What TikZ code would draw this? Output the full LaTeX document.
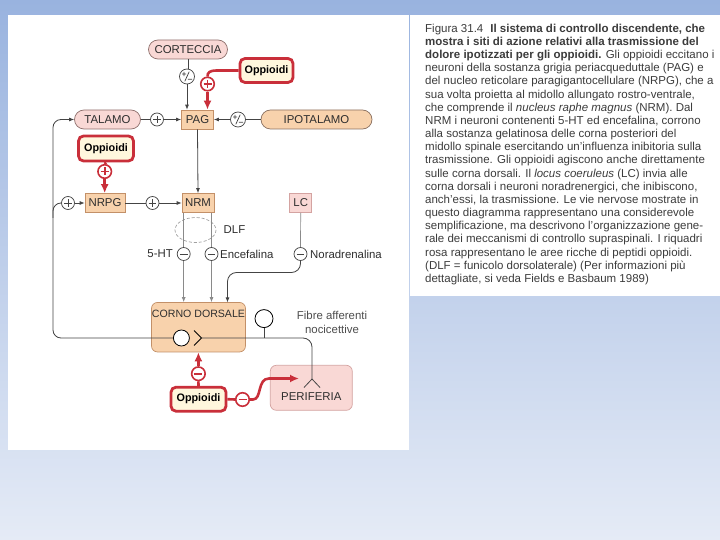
\documentclass[tikz,border=0pt]{standalone}
\usepackage{fontspec}
\setmainfont{Liberation Sans}
\usetikzlibrary{arrows.meta,calc}
\definecolor{pinkf}{HTML}{F9D8D5}
\definecolor{pinkd}{HTML}{8E6F6C}
\definecolor{pinkl}{HTML}{D4A3A1}
\definecolor{orf}{HTML}{F8D2AC}
\definecolor{ord}{HTML}{C39068}
\definecolor{ipod}{HTML}{8A7060}
\definecolor{redc}{HTML}{C92F3A}
\definecolor{cream}{HTML}{FFF7DD}
\definecolor{txt}{HTML}{2E2E2E}
\definecolor{capc}{HTML}{3C3C3C}
\definecolor{lnc}{HTML}{444444}
\definecolor{lgc}{HTML}{8A8A8A}
\definecolor{bgtop}{HTML}{99B3DF}
\definecolor{bgbot}{HTML}{E5EBF6}
\begin{document}
\begin{tikzpicture}[x=1pt,y=-1pt,
 font=\fontsize{11.4}{13}\selectfont,
 pill/.style={draw=pinkd, fill=pinkf, rounded corners=9.5pt, minimum height=19pt, inner sep=0pt, line width=0.7pt, text=txt},
 obox/.style={draw=ord, fill=orf, minimum height=19pt, inner sep=0pt, line width=0.7pt, text=txt},
 opp/.style={draw=redc, fill=cream, line width=2.8pt, rounded corners=5pt, inner sep=0pt, font=\fontsize{10.8}{12}\selectfont\bfseries, text=black},
 conn/.style={draw=lnc, line width=0.8pt},
 lconn/.style={draw=lgc, line width=0.7pt},
 arr/.style={-{Latex[length=5pt,width=4pt]}},
 rarr/.style={draw=redc, line width=2.6pt, -{Latex[length=9pt,width=8pt]}},
 rline/.style={draw=redc, line width=2.6pt},
 sg/.style={circle, draw=lnc, fill=white, line width=0.7pt, minimum size=13pt, inner sep=0pt},
 sgplus/.style={sg, path picture={\draw[line width=0.7pt,lnc,shift={(path picture bounding box.center)}] (-3.8,0) -- (3.8,0) (0,-3.8) -- (0,3.8);}},
 sgminus/.style={sg, path picture={\draw[line width=0.7pt,lnc,shift={(path picture bounding box.center)}] (-3.8,0) -- (3.8,0);}},
 sgpm/.style={sg, minimum size=15pt, path picture={\draw[line width=0.75pt,lnc,shift={(path picture bounding box.center)}] (-5,-2.4) -- (-0.8,-2.4) (-2.9,-4.5) -- (-2.9,-0.3) (-2.2,4.8) -- (2.2,-4.8) (0.8,2.8) -- (5,2.8);}},
 rsg/.style={circle, draw=redc, fill=white, line width=1.6pt, minimum size=13.5pt, inner sep=0pt},
 rplus/.style={rsg, path picture={\draw[line width=1.6pt,redc,shift={(path picture bounding box.center)}] (-4,0) -- (4,0) (0,-4) -- (0,4);}},
 rminus/.style={rsg, path picture={\draw[line width=1.6pt,redc,shift={(path picture bounding box.center)}] (-4,0) -- (4,0);}},
 captxt/.style={anchor=base west, inner sep=0pt, text=capc, font=\fontsize{11.5}{13}\selectfont}
]
\useasboundingbox (0,0) rectangle (720,540);
\shade[top color=bgtop, bottom color=bgbot] (0,0) rectangle (720,540);
\fill[white] (8,15.5) rectangle (408.5,449.5);
\fill[white] (409.5,15.5) rectangle (720,295.5);

% ---------- nodes ----------
\node[pill, minimum width=79pt] (COR) at (188,49.5) {CORTECCIA};
\node[sgpm] (pm1) at (187,76.5) {};
\node[opp, minimum width=53pt, minimum height=24pt] (O1) at (266.5,70.5) {Oppioidi};
\node[rplus] (rp1) at (207.5,84) {};
\node[obox, minimum width=32pt] (PAG) at (197.5,119.5) {PAG};
\node[pill, minimum width=66pt] (TAL) at (107.5,119.5) {TALAMO};
\node[sgplus] (p1) at (157,119.5) {};
\node[pill, draw=ipod, fill=orf, minimum width=111pt] (IPO) at (316.5,119.5) {IPOTALAMO};
\node[sgpm] (pm2) at (238,119.5) {};
\node[opp, minimum width=55pt, minimum height=25pt] (O2) at (106,148.5) {Oppioidi};
\node[rplus] (rp2) at (104.7,171.5) {};
\node[obox, minimum width=40pt] (NRPG) at (105,203) {NRPG};
\node[sgplus] (p2) at (68,203) {};
\node[sgplus] (p3) at (152.5,203) {};
\node[obox, minimum width=32pt] (NRM) at (198,203) {NRM};
\node[obox, draw=pinkl, fill=pinkf, minimum width=22pt] (LC) at (300.7,203) {LC};
\draw[draw=lgc!80, line width=0.7pt, dash pattern=on 3pt off 2pt] (195.5,230) ellipse [x radius=20.5, y radius=12.5];
\node[anchor=west, inner sep=0pt, text=txt] (DLF) at (223.5,230) {DLF};
\node[sgminus] (m1) at (183.7,254) {};
\node[sgminus] (m2) at (211.5,254) {};
\node[sgminus] (m3) at (300.5,254) {};
\node[anchor=east, inner sep=0pt, text=txt] (L5) at (173,254) {5-HT};
\node[anchor=west, inner sep=0pt, text=txt] (Lenc) at (220,254) {Encefalina};
\node[anchor=west, inner sep=0pt, text=txt] (Lnor) at (310,254) {Noradrenalina};

\node[draw=ord, fill=orf, rounded corners=6pt, line width=0.7pt, minimum width=94pt, minimum height=49.5pt, inner sep=0pt] (CD) at (198.5,327.2) {};
\node[text=txt, inner sep=0pt, font=\fontsize{10.6}{13}\selectfont] (CDl) at (198.5,314) {CORNO DORSALE};
\node[draw=pinkl, fill=pinkf, rounded corners=6pt, line width=0.7pt, minimum width=82pt, minimum height=45pt, inner sep=0pt] (PER) at (311.3,387.8) {};
\node[text=txt, inner sep=0pt] (PERl) at (311.3,397) {PERIFERIA};
\node[opp, minimum width=55pt, minimum height=24pt] (O3) at (198.5,399.2) {Oppioidi};
\node[rminus] (rm1) at (198.4,373.7) {};
\node[rminus] (rm2) at (242.5,399.5) {};

\node[circle, draw=black, fill=white, line width=0.8pt, minimum size=16pt, inner sep=0pt] (cell) at (181.4,338) {};
\coordinate (syn) at (201.5,338);
\draw[black, line width=0.8pt] (194,330.5) -- (syn) -- (194,345.5);
\node[circle, draw=black, fill=white, line width=0.8pt, minimum size=18pt, inner sep=0pt] (fib) at (264,318.6) {};
\node[align=center, text=txt!85, inner sep=0pt, font=\fontsize{11.4}{14}\selectfont] (fibl) at (332,322) {Fibre afferenti\\nocicettive};
\coordinate (fork) at (312,379);
\coordinate (pin) at (299,378.5);
\coordinate (br) at (53,218);

% ---------- connectors ----------
\draw[conn] (COR.south) -- (COR.south |- pm1.north);
\draw[conn, arr] (pm1.south) -- (pm1.south |- PAG.north);
\draw[rline] (O1.west) -- (217,70.5) .. controls (209.5,70.5) and (207.5,72.5) .. (rp1.north);
\draw[rarr] (rp1.south) -- (rp1.south |- PAG.north);
\draw[conn] (TAL.east) -- (p1.west);
\draw[conn, arr] (p1.east) -- (PAG.west);
\draw[conn] (IPO.west) -- (pm2.east);
\draw[conn, arr] (pm2.west) -- (PAG.east);
\draw[conn, arr] (PAG.south) -- (NRM.north);
\draw[rline] (O2.south) -- (rp2.north);
\draw[rarr] (rp2.south) -- (rp2.south |- NRPG.north);
\draw[conn, arr] (p2.east) -- (NRPG.west);
\draw[conn] (NRPG.east) -- (p3.west);
\draw[conn, arr] (p3.east) -- (NRM.west);
\draw[conn, rounded corners=8pt] (br) |- (p2.west);
\draw[conn, arr, rounded corners=8pt] (cell.west) -| (53,200) |- (TAL.west);

\draw[lconn] (m1.north |- NRM.south) -- (m1.north);
\draw[lconn] (m2.north |- NRM.south) -- (m2.north);
\draw[lconn, arr] (m1.south) -- (m1.south |- CD.north);
\draw[lconn, arr] (m2.south) -- (m2.south |- CD.north);
\draw[lconn] (LC.south) -- (m3.north);
\draw[conn, arr, rounded corners=9pt] (m3.south) |- (227.5,272.5) -- (227.5,302.4);

\draw[conn] (fib.south) -- (fib.south |- syn);
\draw[conn, rounded corners=9pt] (syn) -| (fork);
\draw[conn] (fork) -- ++(-8,8.5) (fork) -- ++(8,8.5);

\draw[rline] (O3.north) -- (rm1.south);
\draw[rarr] (rm1.north) -- (rm1.north |- CD.south);
\draw[rline] (O3.east) -- (rm2.west);
\draw[rarr] (rm2.east) -- (253,399.5) .. controls (262,399.5) and (257,378.5) .. (269,378.5) -- (pin);

% ---------- caption ----------
\node[captxt] (c1) at (425,32.3) {Figura 31.4\hspace{7pt}\textbf{Il sistema di controllo discendente, che}};
\node[captxt] (c2) at (425,45.5) {\textbf{mostra i siti di azione relativi alla trasmissione del}};
\node[captxt] (c3) at (425,58.6) {\textbf{dolore ipotizzati per gli oppioidi.} Gli oppioidi eccitano i};
\node[captxt] (c4) at (425,71.8) {neuroni della sostanza grigia periacqueduttale (PAG) e};
\node[captxt] (c5) at (425,85.0) {del nucleo reticolare paragigantocellulare (NRPG), che a};
\node[captxt] (c6) at (425,98.1) {sua volta proietta al midollo allungato rostro-ventrale,};
\node[captxt] (c7) at (425,111.3) {che comprende il \textit{nucleus raphe magnus} (NRM). Dal};
\node[captxt] (c8) at (425,124.5) {NRM i neuroni contenenti 5-HT ed encefalina, corrono};
\node[captxt] (c9) at (425,137.6) {alla sostanza gelatinosa delle corna posteriori del};
\node[captxt] (c10) at (425,150.8) {midollo spinale esercitando un'influenza inibitoria sulla};
\node[captxt] (c11) at (425,164.0) {trasmissione. Gli oppioidi agiscono anche direttamente};
\node[captxt] (c12) at (425,177.1) {sulle corna dorsali. Il \textit{locus coeruleus} (LC) invia alle};
\node[captxt] (c13) at (425,190.3) {corna dorsali i neuroni noradrenergici, che inibiscono,};
\node[captxt] (c14) at (425,203.5) {anch'essi, la trasmissione. Le vie nervose mostrate in};
\node[captxt] (c15) at (425,216.6) {questo diagramma rappresentano una considerevole};
\node[captxt] (c16) at (425,229.8) {semplificazione, ma descrivono l'organizzazione gene-};
\node[captxt] (c17) at (425,243.0) {rale dei meccanismi di controllo supraspinali. I riquadri};
\node[captxt] (c18) at (425,256.1) {rosa rappresentano le aree ricche di peptidi oppioidi.};
\node[captxt] (c19) at (425,269.3) {(DLF = funicolo dorsolaterale) (Per informazioni più};
\node[captxt] (c20) at (425,282.5) {dettagliate, si veda Fields e Basbaum 1989)};
\end{tikzpicture}
\end{document}
